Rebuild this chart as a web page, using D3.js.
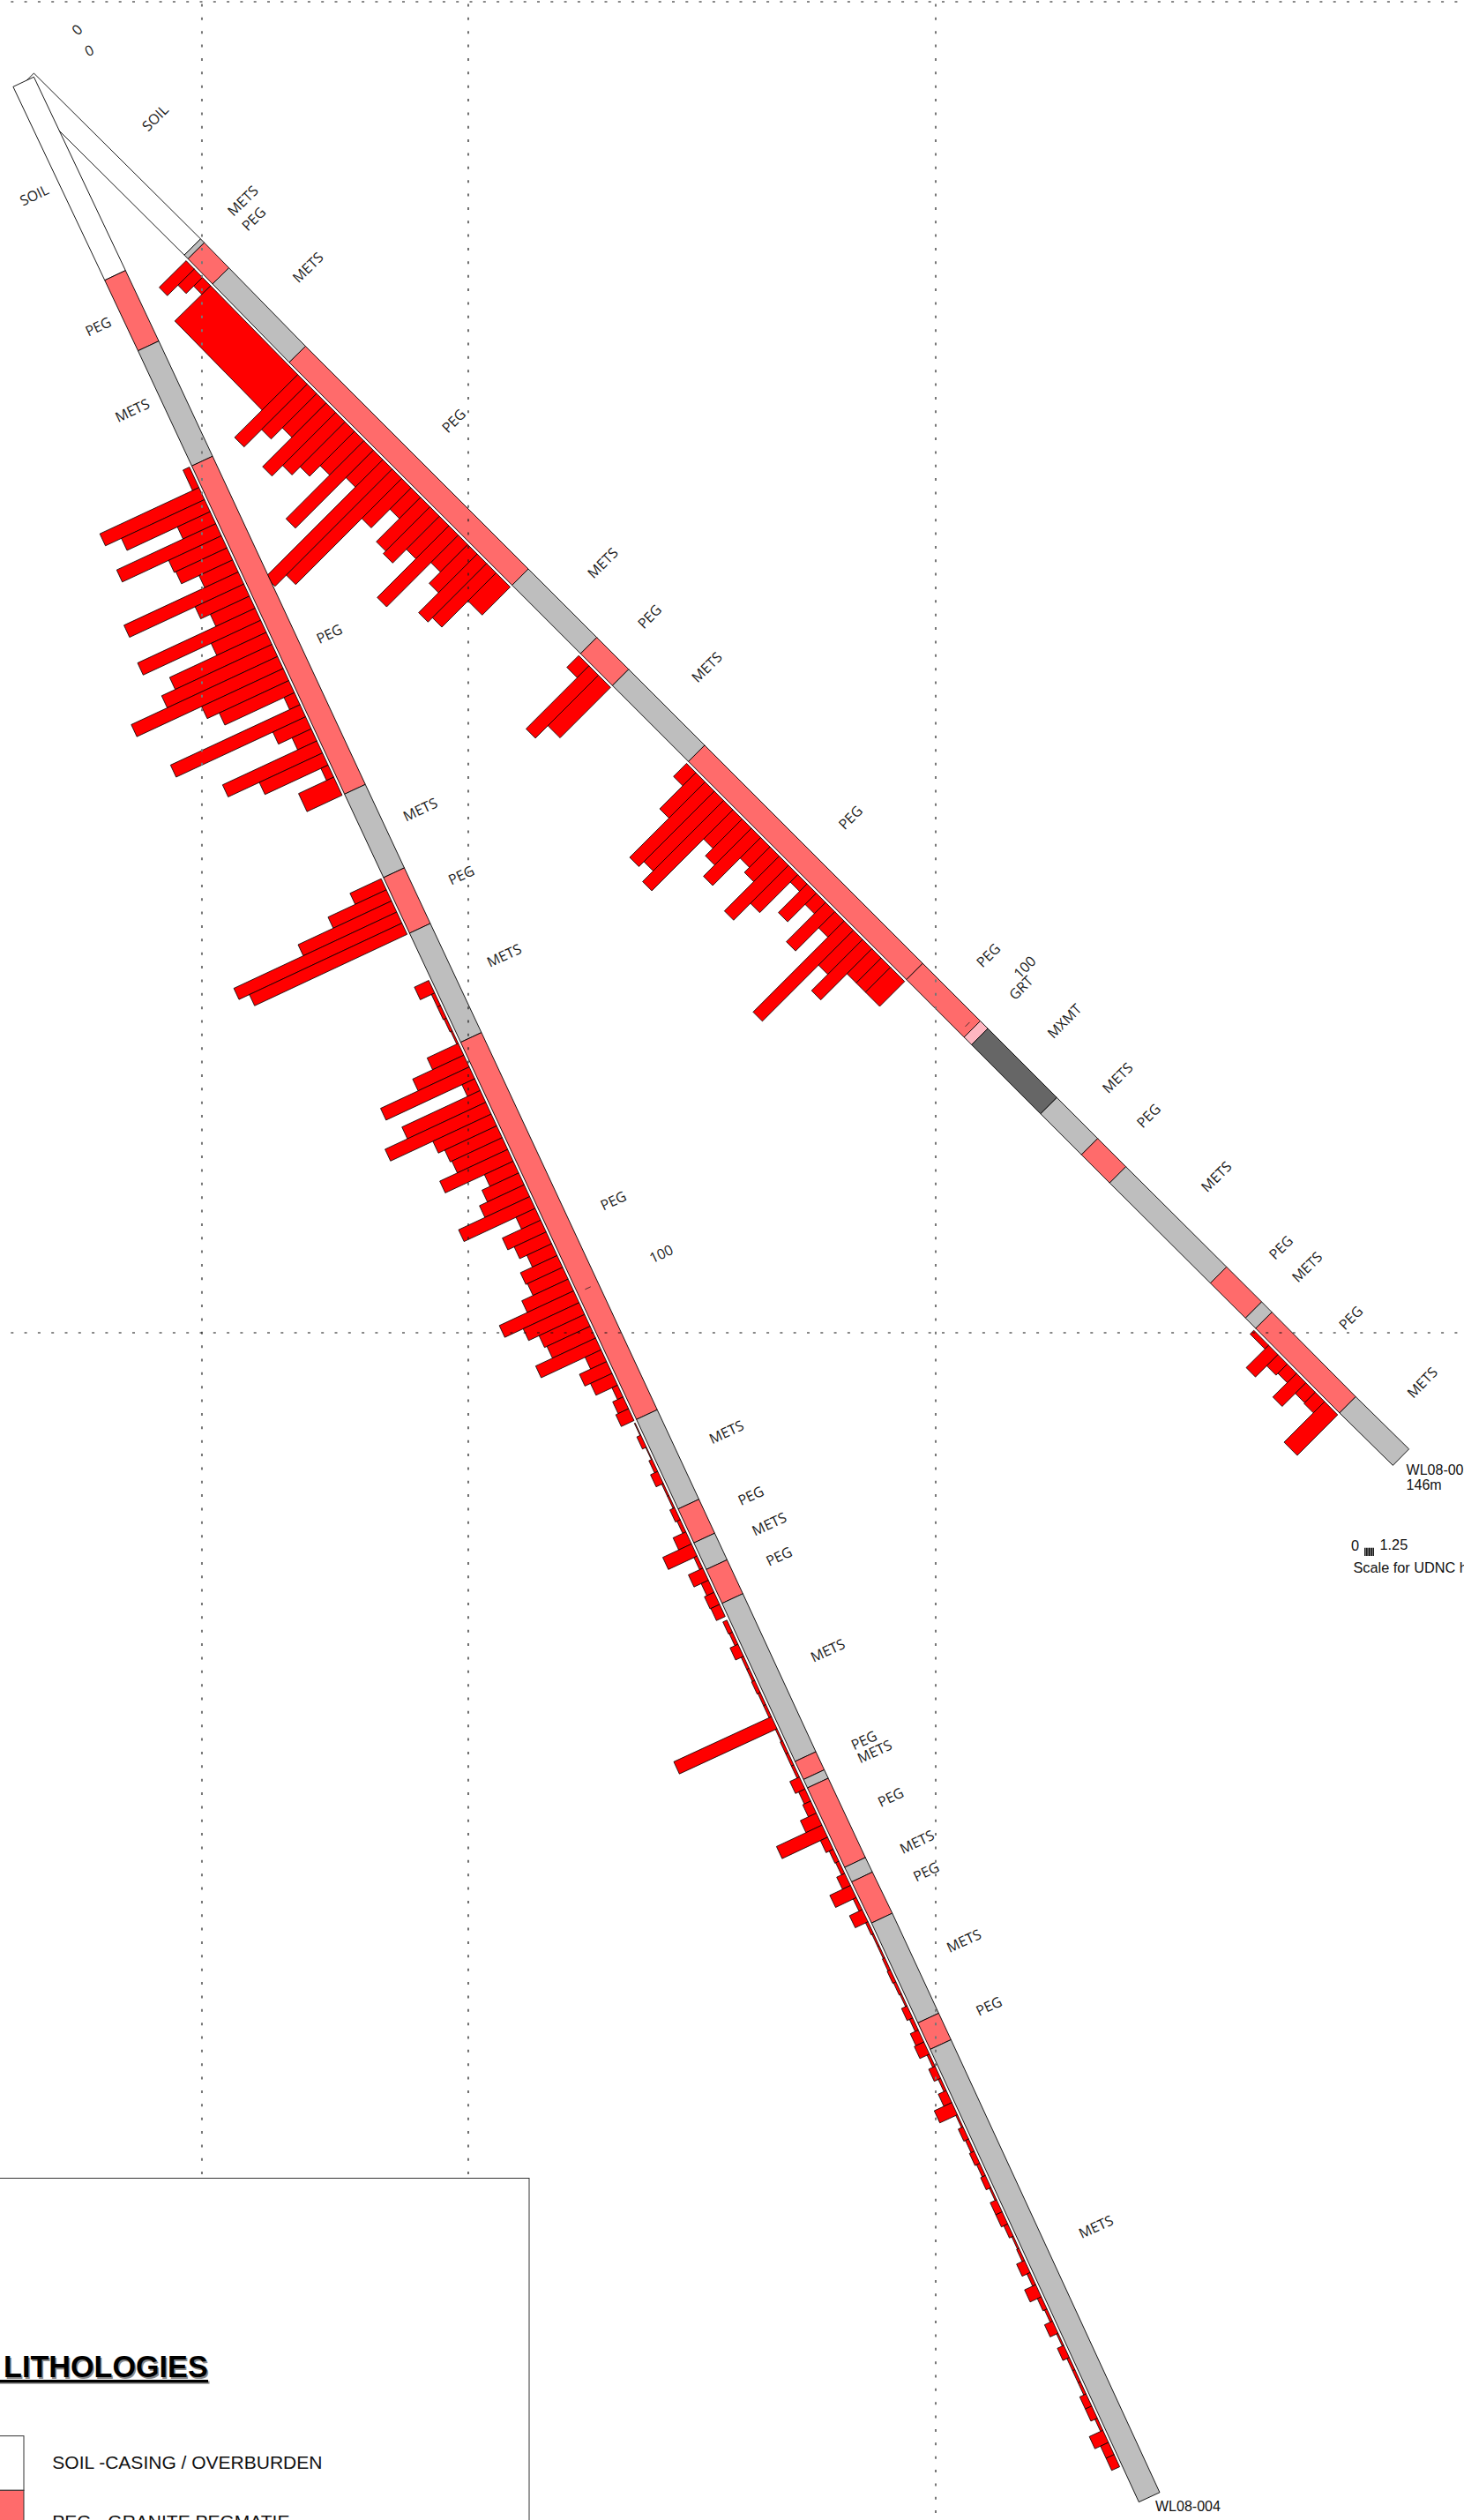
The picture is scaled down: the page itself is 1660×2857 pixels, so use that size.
<!DOCTYPE html>
<html><head><meta charset="utf-8">
<script src="https://cdnjs.cloudflare.com/ajax/libs/d3/7.9.0/d3.min.js"></script>
<style>html,body{margin:0;padding:0;background:#fff;overflow:hidden}svg{display:block}</style>
</head><body><svg id="c" width="1660" height="2857"></svg>
<script>
// ---- survey stations (depth m, east m, down m) ----
const surveyADepth=[0,17.6,28.9,52.5,71.3,100.5,116,130.3,140.4,146];
const surveyAEast=[0,12.52,20.4,37.13,50.37,71.07,82.0,92.2,99.26,103.26];
const surveyADown=[0,12.44,20.5,37.22,50.46,71.16,82.1,92.25,99.37,103.3];
const surveyBDepth=[0,16.1,21.9,31.5,58.7,70.2,79.2,110.5,125.7,138.8,147.6,152.2,162.7,200];
const surveyBEast=[0,6.88,9.38,13.42,24.89,29.77,33.61,46.81,53.24,58.72,62.44,64.46,68.87,84.54];
const surveyBDown=[0.28,14.81,20.11,28.76,53.40,63.84,72.03,100.35,114.16,126.03,133.97,138.15,147.65,181.64];
// ---- lithology logs ----
const lithACodes=["SOIL","METS","PEG","METS","PEG","METS","PEG","METS","PEG","PEG","GRT","MXMT","METS","PEG","METS","PEG","METS","PEG","METS"];
const lithATo=[17.6,18,20.65,28.9,52.5,59.8,63.2,71.3,94.4,100.5,101.3,108.65,113,116,126.6,130.3,131.4,140.4,146];
const lithBCodes=["SOIL","PEG","METS","PEG","METS","PEG","METS","PEG","METS","PEG","METS","PEG","METS","PEG","METS","PEG","METS","PEG","METS","PEG","METS"];
const lithBTo=[16.1,21.9,31.5,58.7,65.6,70.2,79.2,110.5,117.9,120.7,122.9,125.7,138.8,140.3,141,147.6,148.8,152.2,160.5,162.7,200];
const lithNames=["SOIL","PEG","METS","GRT","MXMT"];
const lithColors=["#ffffff","#ff6b6b","#bebebe","#ffb6c1","#666666"];
// ---- UDNC histogram: runs of equal samples between two depths ----
const udncA1=[43,26,14];
const udncA2=[57];
const udncA3=[101,73,55,102,85,72,55,125,44,188,170,64,34,71,75,53,115,44,62,94,87];
const udncA4=[45];
const udncA5=[19];
const udncA6=[101];
const udncA7=[81];
const udncA8=[21,58,121,113,130,47,59,77,33,41,88,61,12,46,18,63,26,146,56,82,40,40];
const udncA9=[40];
const udncA10=[6];
const udncA11=[36,18,15,38,17,18];
const udncA12=[65];
const udncB1=[8];
const udncB2=[124,104,41,124,66,64,42,143,61,49,147,62,121,138,183,102,87,13,162,41,24,118,79,9];
const udncB3=[44];
const udncB4=[39,73,117,204,191];
const udncB5=[18,4,4,3,2];
const udncB6=[39,64,111,16,98,126,73,65,63,85,36,46,56,89,24,48,40,31,46,44,58,93,70,57,54,75,20,34,27,7,13,16];
const udncB7=[1,5,1,4,9,2,2];
const udncB8=[6,4,16,36,4,18,9,12,11];
const udncB9=[5,4,10,3,3,4,3,3,122,2,3,3,3,12,8,10,20,57,9,5,4,10,26,4,16,3,2,2,3,4,3,2,7,4,10,12,3,8,3,10,22,2,6,4,6,4,6,2,8,8,5,2,3,10,4,14,5,3,10,2,8,3,3,3,8,8,3,17,10,10];
const runsA=[[18,20.65,udncA1],[20.65,30,udncA2],[30,51,udncA3],[51,52.5,udncA4],[59.8,60.9,udncA5],[60.9,61.9,udncA6],[61.9,63.2,udncA7],[71.3,92.9,udncA8],[92.9,94.4,udncA9],[131.4,133,udncA10],[133,139,udncA11],[139,140.4,udncA12]];
const runsB=[[31.5,33.2,udncB1],[33.2,57.2,udncB2],[57.2,58.7,udncB3],[65.6,70.2,udncB4],[74,79.2,udncB5],[79.2,110.5,udncB6],[110.7,117.7,udncB7],[117.7,126.7,udncB8],[127,197,udncB9]];
// ---- grid and annotation ----
const gridEast=[12.62,32.62,67.72];
const gridDown=[-5.36,94.57];
const depthTicks=[0,100];
const scaleTicks=["0","1.25"];
const legendTitle="LITHOLOGIES";
const legendItems=["SOIL -CASING / OVERBURDEN","PEG - GRANITE PEGMATIE"];

const W=1660,H=2857,pxPerM=15.1;
const svg=d3.select("#c");
const xS=d3.scaleLinear().domain([0,100]).range([38.4,38.4+100*pxPerM]);
const yS=d3.scaleLinear().domain([0,100]).range([83,83+100*pxPerM]);
const histS=d3.scaleLinear().domain([0,200]).range([0,200]);
const fillS=d3.scaleOrdinal().domain(lithNames).range(lithColors);
const STRIP=26,GAP=3,TICKLAB=65;
const labelFont="'Open Sans',sans-serif", sansFont="'Liberation Sans',Arial,sans-serif";
const pathOf=d3.line().curve(d3.curveLinearClosed);

function makeHole(depths,east,down){
  const ex=d3.scaleLinear().domain(depths).range(east);
  const ey=d3.scaleLinear().domain(depths).range(down);
  const maxD=depths[depths.length-1];
  const up=d=>[xS(ex(d)),yS(ey(d))];
  const normal=d=>{
    const a=up(Math.max(0,d-4)),b=up(Math.min(maxD,d+4));
    const dx=b[0]-a[0],dy=b[1]-a[1],l=Math.hypot(dx,dy);
    return [-dy/l,dx/l];
  };
  const at=(d,off)=>{const p=up(d),n=normal(d);return [p[0]+n[0]*off,p[1]+n[1]*off];};
  return {depths,at,normal};
}
function ribbon(h,a,b,o0,o1){
  const ds=[a,...h.depths.filter(d=>d>a&&d<b),b];
  return pathOf([...ds.map(d=>h.at(d,o0)),...ds.slice().reverse().map(d=>h.at(d,o1))]);
}
function drawHole(g,h,codes,tos,runs,labelOff,place){
  const ints=codes.map((c,i)=>{
    const from=i?tos[i-1]:0,to=tos[i],p=place[i]||{};
    return {code:c,from,to,mid:(from+to)/2+(p.shift||0),off:labelOff+(p.off||0),flip:!!p.flip};
  });
  const bars=[];
  runs.forEach(([a,b,vals])=>{const w=(b-a)/vals.length;
    vals.forEach((v,i)=>bars.push({from:a+i*w,to:a+(i+1)*w,v}));});
  g.append("g").selectAll("path").data(bars).join("path")
    .attr("d",d=>pathOf([h.at(d.from,STRIP+GAP),h.at(d.to,STRIP+GAP),
        h.at(d.to,STRIP+GAP+histS(d.v)),h.at(d.from,STRIP+GAP+histS(d.v))]))
    .attr("fill","#ff0000").attr("stroke","#000").attr("stroke-width",0.8);
  g.append("g").selectAll("path").data(ints).join("path")
    .attr("d",d=>ribbon(h,d.from,d.to,0,STRIP))
    .attr("fill",d=>fillS(d.code)).attr("stroke","#000").attr("stroke-width",0.9);
  g.append("g").selectAll("line").data(depthTicks.filter(d=>d>0)).join("line")
    .attr("x1",d=>h.at(d,STRIP/2-3.5)[0]).attr("y1",d=>h.at(d,STRIP/2-3.5)[1])
    .attr("x2",d=>h.at(d,STRIP/2+3.5)[0]).attr("y2",d=>h.at(d,STRIP/2+3.5)[1])
    .attr("stroke","#222").attr("stroke-width",0.8);
  const rot=d=>{const n=h.normal(d);return Math.atan2(-n[1],-n[0])*180/Math.PI;};
  const style=sel=>sel.attr("dy","0.36em").attr("font-family",labelFont).attr("font-size",16).attr("fill","#1a1a1a");
  style(g.append("g").selectAll("text").data(ints).join("text").text(d=>d.code)
    .attr("text-anchor",d=>d.flip?"end":"start")
    .attr("transform",d=>{const p=h.at(d.mid,d.flip?d.off:-d.off);return `translate(${p[0]},${p[1]}) rotate(${rot(d.mid)})`;}));
  style(g.append("g").selectAll("text").data(depthTicks).join("text").text(d=>d)
    .attr("transform",d=>{const p=h.at(d,-TICKLAB);return `translate(${p[0]},${p[1]}) rotate(${rot(d)})`;}));
}
const holeA=makeHole(surveyADepth,surveyAEast,surveyADown);
const holeB=makeHole(surveyBDepth,surveyBEast,surveyBDown);
drawHole(svg.append("g"),holeA,lithACodes,lithATo,runsA,44,{});
drawHole(svg.append("g"),holeB,lithBCodes,lithBTo,runsB,40,{
  0:{flip:true},1:{flip:true},2:{flip:true,shift:-0.9},
  3:{shift:2.2,off:-20},4:{off:-16},20:{shift:-1.4}});

// grid (above the logs)
const PERIOD_V=15.36,PERIOD_H=15.3;
const gridV=svg.append("g");
gridV.selectAll("line").data(gridEast).join("line")
  .attr("x1",d=>xS(d)).attr("x2",d=>xS(d)).attr("y1",4.5).attr("y2",H)
  .attr("stroke",(d,i)=>i===1?"#222":"#777").attr("stroke-width",(d,i)=>i===1?1.3:2)
  .attr("stroke-dasharray",`3 ${PERIOD_V-3}`);
const gridH=svg.append("g");
gridH.selectAll("line").data(gridDown).join("line")
  .attr("y1",d=>yS(d)).attr("y2",d=>yS(d)).attr("x1",-3).attr("x2",W)
  .attr("stroke",(d,i)=>i===0?"#888":"#111").attr("stroke-width",(d,i)=>i===0?2:1)
  .attr("stroke-dasharray",`3 ${PERIOD_H-3}`);

// hole end labels
const tx=(s,x,y,size)=>svg.append("text").attr("x",x).attr("y",y).attr("font-family",sansFont).attr("font-size",size).attr("fill","#111").text(s);
tx("WL08-003",1594.6,1671.5,16);
tx("146m",1594.6,1688.5,16);
tx("WL08-004",1310,2847,16);

// UDNC scale
tx(scaleTicks[0],1532,1758.3,16.3);
tx(scaleTicks[1],1564.5,1757.3,16.3);
tx("Scale for UDNC histogram",1534.5,1782.7,16.3);
svg.append("g").selectAll("line").data(d3.range(0,histS(11),1.6)).join("line")
  .attr("x1",d=>1547.7+d).attr("x2",d=>1547.7+d).attr("y1",1754.7).attr("y2",1764)
  .attr("stroke","#000").attr("stroke-width",1.2);

// legend
const lg=svg.append("g");
lg.append("rect").attr("x",-5).attr("y",2469.5).attr("width",605).attr("height",420)
  .attr("fill","#fff").attr("stroke","#333").attr("stroke-width",1);
const title=(col,dx,dy)=>{
  lg.append("text").attr("x",4+dx).attr("y",2695+dy).attr("font-family",sansFont).attr("font-weight","bold")
    .attr("font-size",34.2).attr("fill",col).text(legendTitle);
  lg.append("rect").attr("x",-5+dx).attr("y",2698+dy).attr("width",241).attr("height",3.2).attr("fill",col);
};
title("#888",1.5,1.5);
title("#000",0,0);
const swatchTop=[2761.7,2823.3];
lg.selectAll("rect.sw").data(legendItems).join("rect").attr("class","sw")
  .attr("x",-5).attr("width",32).attr("y",(d,i)=>swatchTop[i]).attr("height",(d,i)=>swatchTop[1]-swatchTop[0])
  .attr("fill",(d,i)=>fillS(lithNames[i])).attr("stroke","#333").attr("stroke-width",1);
lg.selectAll("text.it").data(legendItems).join("text").attr("class","it")
  .attr("x",59.3).attr("y",(d,i)=>2799+i*67).attr("font-family",sansFont).attr("font-size",21).attr("fill","#111").text(d=>d);
</script></body></html>
